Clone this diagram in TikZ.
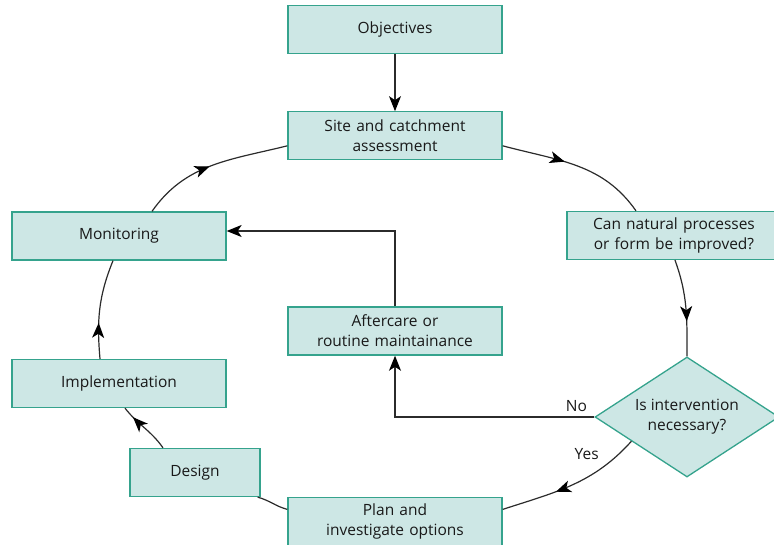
\documentclass[tikz,border=0pt]{standalone}
\usepackage{fontspec}
\setmainfont{Open Sans}
\usetikzlibrary{positioning,shapes.geometric,arrows.meta,decorations.markings,calc}
\definecolor{boxfill}{HTML}{CDE7E5}
\definecolor{boxline}{HTML}{35A38D}
\definecolor{linegray}{HTML}{2B2B2B}

\begin{document}
\begin{tikzpicture}[
    x=1pt, y=-1pt,
    node distance=57pt and 60pt,
    >={Stealth[length=15pt, width=12pt, inset=4pt]},
    block/.style={draw=boxline, line width=1.3pt, rectangle, minimum height=48pt, minimum width=214pt, fill=boxfill, text width=204pt, align=center, font=\fontsize{15.5}{20}\selectfont, text=black!90},
    decision/.style={draw=boxline, line width=1.3pt, diamond, aspect=1.53, minimum width=184pt, minimum height=120pt, inner sep=0pt, fill=boxfill, align=center, font=\fontsize{15.5}{20}\selectfont, text=black!90},
    link/.style={draw=linegray, line width=1.2pt},
    midarrow/.style={postaction={decorate}, decoration={markings, mark=at position #1 with {\arrow[black]{>}}}},
    lbl/.style={font=\fontsize{15.5}{20}\selectfont, text=black!90}
]
  \useasboundingbox (0,0) rectangle (774,544);

  % Nodes centre column
  \node (obj) [block] at (395,29.5) {Objectives};
  \node (site) [block, below=57pt of obj] {Site and catchment\\assessment};
  \node (care) [block, below=146pt of site] {Aftercare or\\routine maintainance};
  \node (plan) [block, below=141pt of care] {Plan and\\investigate options};

  % Nodes round the cycle
  \node (can) [block] at (674,235.5) {Can natural processes\\or form be improved?};
  \node (diam) [decision] at (687,417) {Is intervention\\necessary?};
  \node (mon) [block] at (119,236) {Monitoring};
  \node (impl) [block] at (119,383.5) {Implementation};
  \node (design) [block, minimum width=130pt, text width=120pt] at (195,472.5) {Design};

  % Arrows
  \draw [link, ->, >={Stealth[length=15pt, width=12pt, inset=4pt, black]}] (obj) -- (site);
  \draw [link, midarrow=0.42] ([yshift=-10pt]site.east) to[out=-15, in=125] ([xshift=-38pt]can.north);
  \draw [link, midarrow=0.64] ([xshift=1pt]can.south) to[out=-70, in=90] (diam.north);
  \draw [link, midarrow=0.62] ($(diam.west)!0.4!(diam.south)$) to[out=228, in=18]
    node[lbl, pos=0.2, above left, xshift=-6pt, yshift=-1pt] {Yes} ([yshift=12pt]plan.east);
  \draw [link] ([yshift=12pt]plan.west) to[out=165, in=-15] ([xshift=-3pt]design.south east);
  \draw [link, midarrow=0.78] ([xshift=-32pt]design.north) to[out=125, in=-52] ([xshift=6pt]impl.south);
  \draw [link, midarrow=0.36] ([xshift=-19pt]impl.north) to[out=95, in=-112] ([xshift=-6pt]mon.south);
  \draw [link, midarrow=0.48] ([xshift=33pt]mon.north) to[out=55, in=194] ([yshift=-10pt]site.west);
  \draw [link, ->, >={Stealth[length=15pt, width=12pt, inset=4pt, black]}] (diam.west) -| node[lbl, pos=0.045, above, yshift=1pt] {No} (care.south);
  \draw [link, ->, >={Stealth[length=15pt, width=12pt, inset=4pt, black]}] (care.north) |- ([yshift=5pt]mon.east);
\end{tikzpicture}
\end{document}
